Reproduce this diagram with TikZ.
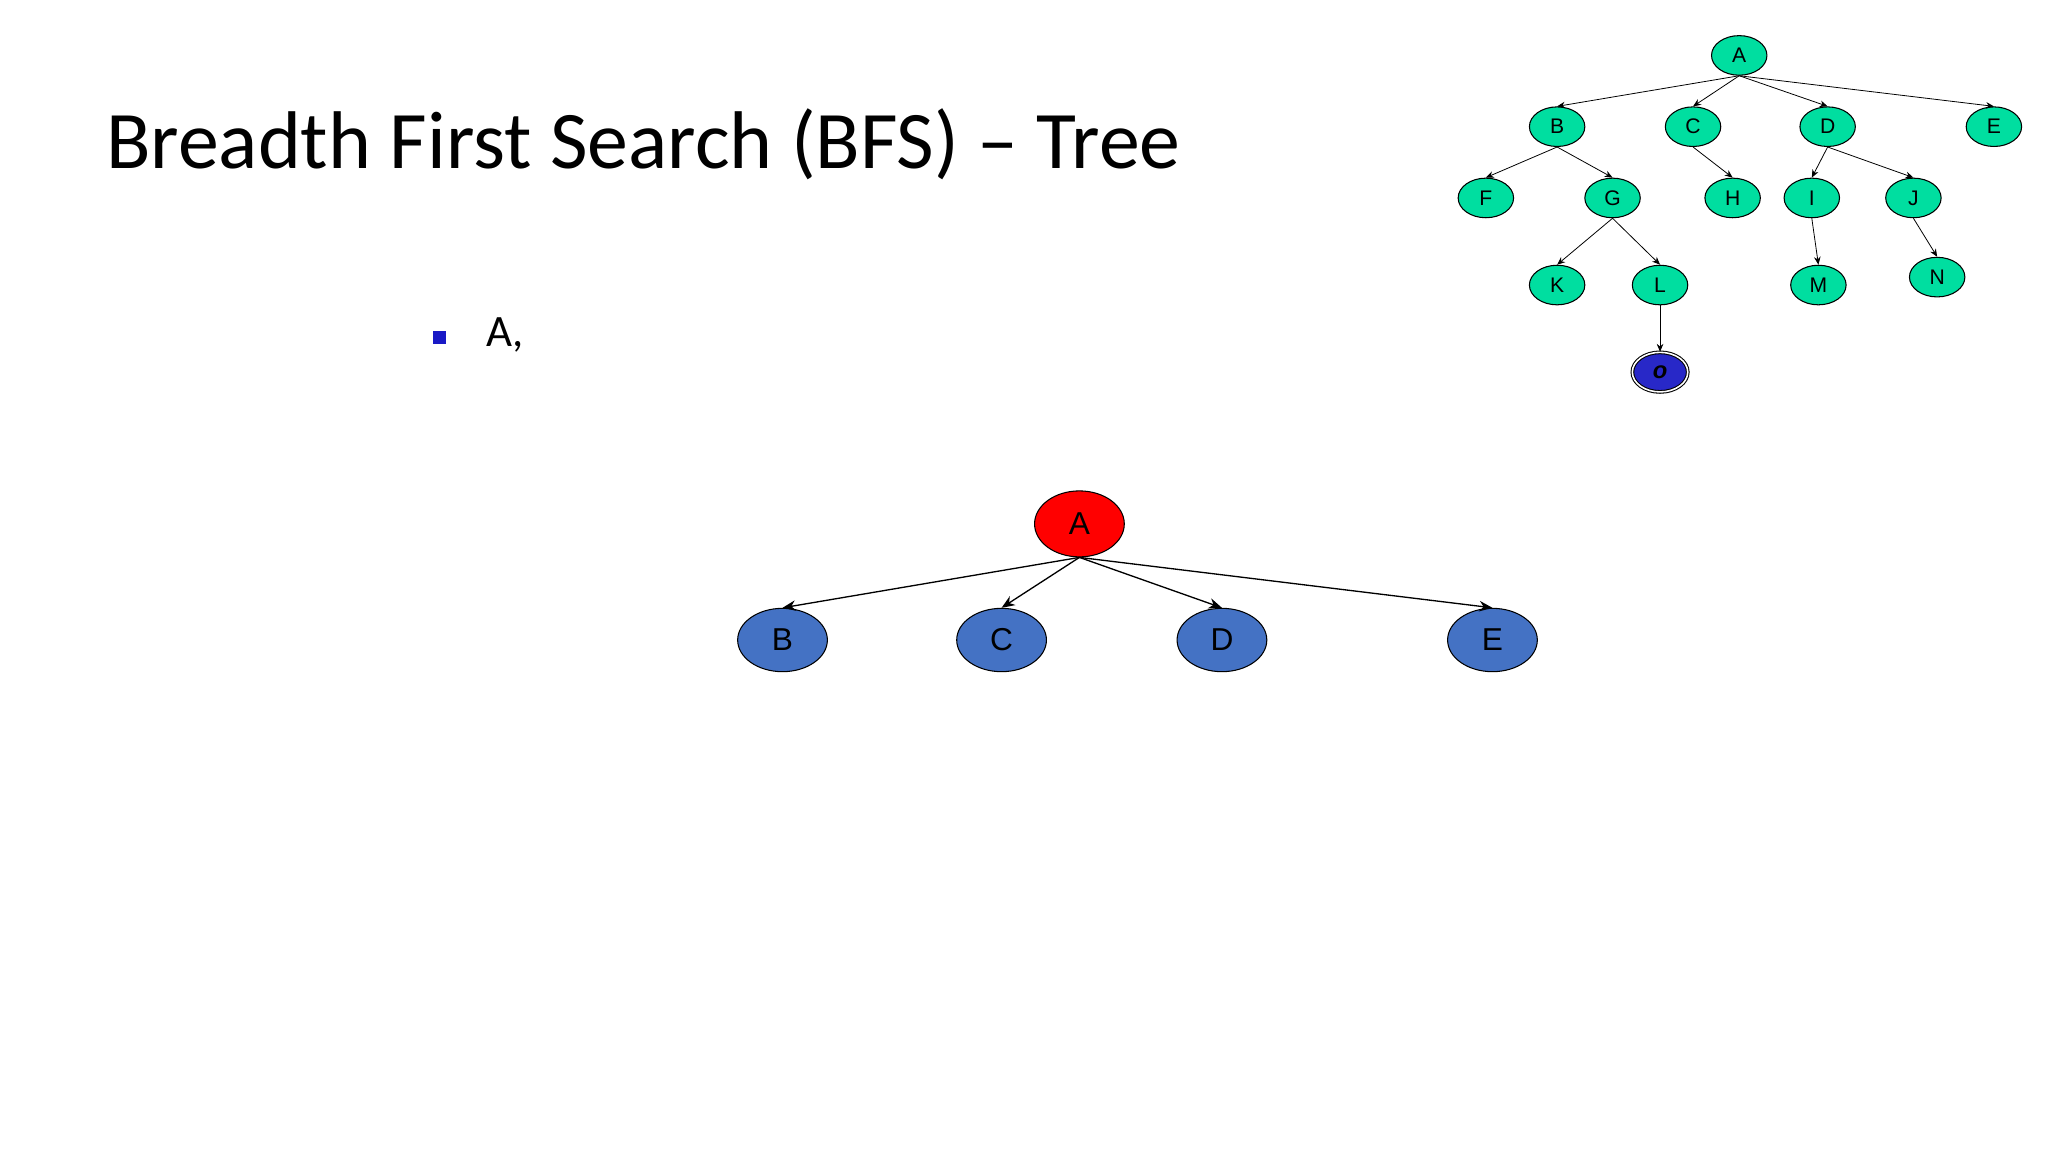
\documentclass[tikz,border=0pt]{standalone}
\usepackage{fontspec}
\setmainfont{Carlito}
\newfontfamily\arialf{Liberation Sans}
\usetikzlibrary{shapes.geometric,arrows.meta}
\begin{document}
\begin{tikzpicture}[x=0.5pt,y=-0.5pt,
 sn/.style={ellipse,draw,fill=green!75!cyan!80!white,minimum width=21pt,minimum height=15pt,inner sep=0pt,font=\arialf\fontsize{8}{8}\selectfont},
 bn/.style={ellipse,draw,fill=blue!55!cyan!60!black!80!white,minimum width=34pt,minimum height=24pt,inner sep=0pt,font=\arialf\fontsize{12}{12}\selectfont},
 se/.style={-{Stealth[length=3pt,width=2.5pt]},line width=0.3pt},
 be/.style={-{Stealth[length=5pt,width=4pt]},line width=0.5pt}]
\useasboundingbox (0,0) rectangle (1552,873);
\node[anchor=base west,font=\fontsize{31}{31}\selectfont,inner sep=0pt] (title) at (80,128) {Breadth First Search (BFS) -- Tree};
\node[fill=blue!75!black!90,minimum size=5pt,inner sep=0pt] (sq) at (333,256) {};
\node[anchor=west,font=\fontsize{17}{17}\selectfont,inner sep=0pt] (t) at (368,254) {A,};
% small tree
\tikzset{sn/.append style={fill={rgb,255:red,0;green,222;blue,160}}}
\foreach \n/\x/\y in {A/1318/42,B/1180/96,C/1283/96,D/1385/96,E/1511/96,F/1126/150,G/1222/150,H/1313/150,I/1373/150,J/1450/150,K/1180/216,L/1258/216,M/1378/216,N/1468/210}
  \node[sn] (s\n) at (\x,\y) {\n};
\node[sn,fill={rgb,255:red,40;green,40;blue,200},double,double distance=0.6pt,font=\arialf\bfseries\itshape\fontsize{9}{9}\selectfont] (sO) at (1258,282) {o};
\foreach \a/\b in {A/B,A/C,A/D,A/E,B/F,B/G,C/H,D/I,D/J,G/K,G/L,I/M,J/N,L/O}
  \draw[se] (s\a.south) -- (s\b.north);
% main
\node[bn,fill={rgb,255:red,255;green,0;blue,0},minimum height=25pt] (A) at (818,397) {A};
\foreach \n/\x in {B/593,C/759,D/926,E/1131}
  {\node[bn,fill={rgb,255:red,68;green,114;blue,196}] (\n) at (\x,485) {\n};
   \draw[be] (A.south) -- (\n.north);}
\end{tikzpicture}
\end{document}
